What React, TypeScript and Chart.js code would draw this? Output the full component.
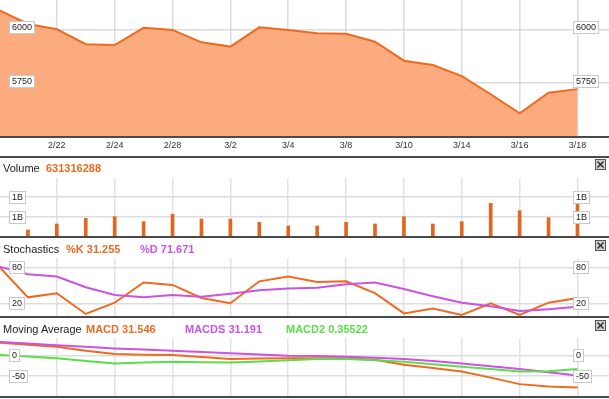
import React, { useEffect, useRef } from 'react';
import { Chart, registerables } from 'chart.js';
Chart.register(...registerables);

// ---------- data ----------
const dates = ['2/18', '2/21', '2/22', '2/23', '2/24', '2/25', '2/28', '3/1', '3/2', '3/3', '3/4', '3/7', '3/8', '3/9', '3/10', '3/11', '3/14', '3/15', '3/16', '3/17', '3/18'];
const labeledIdx = [2, 4, 6, 8, 10, 12, 14, 16, 18, 20];
const price = [6090, 6025, 6000, 5930, 5926, 6007, 5997, 5939, 5919, 6009, 5997, 5981, 5979, 5942, 5853, 5833, 5781, 5696, 5607, 5703, 5720];
const volumeM = [null, 175, 325, 467, 508, 383, 567, 450, 450, 367, 275, 275, 367, 325, 508, 325, 383, 842, 658, 483, 858];
const stochK = [82, 30, 37, 2, 21, 55, 51, 29, 20, 57, 65, 56, 57, 37, 3, 11, 0.5, 20, 0.5, 21, 29];
const stochD = [82, 69, 65, 47, 34, 30, 34, 31, 36, 42, 45, 46, 52, 55, 44, 32, 21, 15, 7, 10, 14];
const macd = [32, 27, 22, 12, 4, 2.5, 2, -3, -8, -7, -6, -6, -6.5, -10, -22, -30, -39, -54, -70, -76, -78];
const macds = [34, 30, 26, 22, 18, 15, 12, 9, 6, 3, 0, -1, -2.5, -5, -8, -13, -19, -26, -33, -41, -49];
const macd2 = [2, -2, -6, -13, -19, -16.5, -15, -16, -17, -14, -11, -8, -8, -11, -15, -21, -27, -33, -39, -38, -33];
const priceTicks = [5750, 6000];
const volumeTicks = [500, 1000];
const stochTicks = [20, 80];
const macdTicks = [-50, 0];

// ---------- styles ----------
const ORANGE = '#ef6a1f';
const MAGENTA = '#cc52e4';
const GREEN = '#5ade4a';
const FONT = '"Liberation Sans", Arial, sans-serif';

const pts = (arr: (number | null)[]) => arr.map((v, i) => ({ x: i, y: v }));

function xScale(z: number, color: string) {
  return {
    type: 'linear',
    min: 0.035,
    max: 21.09,
    offset: false,
    z,
    afterBuildTicks: (s: any) => { s.ticks = labeledIdx.map((v) => ({ value: v })); },
    ticks: { display: false },
    grid: { drawTicks: false, color, lineWidth: 1.5, offset: false },
    border: { display: false },
  };
}

function yScale(min: number, max: number, ticks: number[], z: number, color: string) {
  return {
    type: 'linear',
    min,
    max,
    z,
    afterBuildTicks: (s: any) => { s.ticks = ticks.map((v) => ({ value: v })); },
    ticks: { display: false },
    grid: { drawTicks: false, color, lineWidth: 1.5 },
    border: { display: false },
  };
}

function boxPlugin(fmt: (v: number) => string, dy: number) {
  return {
    id: 'boxes',
    afterDraw(chart: any) {
      const ctx = chart.ctx;
      const y = chart.scales.y;
      ctx.save();
      ctx.font = '9px ' + FONT;
      ctx.textBaseline = 'middle';
      y.ticks.forEach((t: any) => {
        const py = y.getPixelForValue(t.value) + dy;
        const text = fmt(t.value);
        const w = Math.round(ctx.measureText(text).width + 5);
        const top = Math.round(py - 6.5) + 0.5;
        [9.5, 573.5].forEach((x0) => {
          ctx.fillStyle = '#ffffff';
          ctx.fillRect(x0, top, w, 12);
          ctx.strokeStyle = '#c9c9c9';
          ctx.lineWidth = 1;
          ctx.strokeRect(x0, top, w, 12);
          ctx.fillStyle = '#222';
          ctx.fillText(text, x0 + 2.5, top + 6.5);
        });
      });
      ctx.restore();
    },
  };
}

const xLabelPlugin = {
  id: 'xlabels',
  afterDraw(chart: any) {
    const ctx = chart.ctx;
    const x = chart.scales.x;
    ctx.save();
    ctx.font = '9px ' + FONT;
    ctx.textAlign = 'center';
    ctx.textBaseline = 'middle';
    ctx.fillStyle = '#333';
    labeledIdx.forEach((i) => {
      ctx.fillText(dates[i], x.getPixelForValue(i), chart.chartArea.bottom + 8.5);
    });
    ctx.restore();
  },
};

const baseOptions = (padTop: number, padBottom: number) => ({
  responsive: false,
  animation: false,
  events: [],
  layout: { padding: { top: padTop, bottom: padBottom, left: 0, right: 0 } },
  plugins: { legend: { display: false }, tooltip: { enabled: false }, title: { display: false } },
});

const lineDs = (data: number[], color: string) => ({
  data: pts(data),
  borderColor: color,
  borderWidth: 2,
  pointRadius: 0,
  tension: 0,
  fill: false,
});

function buildPrice() {
  return {
    type: 'line',
    data: {
      datasets: [{
        data: pts(price),
        borderColor: ORANGE,
        borderWidth: 2,
        backgroundColor: '#fbab7d',
        fill: 'start',
        pointRadius: 0,
        tension: 0,
      }],
    },
    options: {
      ...baseOptions(0, 20),
      scales: {
        x: xScale(1, 'rgba(205,205,205,0.7)'),
        y: yScale(5496, 6137, priceTicks, 1, 'rgba(205,205,205,0.7)'),
      },
    },
    plugins: [boxPlugin((v) => String(v), -1.5), xLabelPlugin],
  };
}

function buildVolume() {
  return {
    type: 'bar',
    data: {
      datasets: [{
        data: pts(volumeM),
        backgroundColor: '#e2661f',
        barThickness: 3,
        borderWidth: 0,
      }],
    },
    options: {
      ...baseOptions(21, 1),
      scales: {
        x: xScale(0, '#e2e2e2'),
        y: yScale(0, 1475, volumeTicks, 0, '#dddddd'),
      },
    },
    plugins: [boxPlugin((v) => Math.round(v / 1000) + 'B', 0)],
  };
}

function buildStoch() {
  return {
    type: 'line',
    data: { datasets: [lineDs(stochD, MAGENTA), lineDs(stochK, ORANGE)] },
    options: {
      ...baseOptions(20, 1),
      scales: {
        x: xScale(0, '#e2e2e2'),
        y: yScale(-3.1, 96.3, stochTicks, 0, '#dddddd'),
      },
    },
    plugins: [boxPlugin((v) => String(v), 0)],
  };
}

function buildMacd() {
  return {
    type: 'line',
    data: { datasets: [lineDs(macd2, GREEN), lineDs(macds, MAGENTA), lineDs(macd, ORANGE)] },
    options: {
      ...baseOptions(20, 2),
      scales: {
        x: xScale(0, '#e2e2e2'),
        y: yScale(-101.7, 43.6, macdTicks, 0, '#dddddd'),
      },
    },
    plugins: [boxPlugin((v) => String(v), 0)],
  };
}

function Panel({ top, height, build }: { top: number; height: number; build: () => any }) {
  const ref = useRef<HTMLCanvasElement | null>(null);
  useEffect(() => {
    const chart = new Chart(ref.current as HTMLCanvasElement, build());
    return () => chart.destroy();
  }, []);
  return (
    <canvas
      ref={ref}
      width={609}
      height={height}
      style={{ position: 'absolute', left: 0, top, width: 609, height, display: 'block' }}
    />
  );
}

function Line({ top }: { top: number }) {
  return <div style={{ position: 'absolute', left: 0, top, width: 609, height: 2, background: '#4a4a4a' }} />;
}

function CloseBtn({ top }: { top: number }) {
  return (
    <svg width={11} height={11} style={{ position: 'absolute', left: 595, top }}>
      <rect x={0.5} y={0.5} width={10} height={10} fill="#d0d0d0" stroke="#555" />
      <line x1={2.5} y1={2.5} x2={8.5} y2={8.5} stroke="#222" strokeWidth={1.2} />
      <line x1={8.5} y1={2.5} x2={2.5} y2={8.5} stroke="#222" strokeWidth={1.2} />
    </svg>
  );
}

function Label({ left, top, text, color, bold }: { left: number; top: number; text: string; color: string; bold?: boolean }) {
  return (
    <div
      style={{
        position: 'absolute', left, top, font: `${bold ? 'bold ' : ''}11px ${FONT}`,
        lineHeight: '13px', color, whiteSpace: 'nowrap',
      }}
    >
      {text}
    </div>
  );
}

export default function App() {
  return (
    <div style={{ position: 'fixed', left: 0, top: 0, width: 609, height: 399, overflow: 'hidden', background: '#fff' }}>
      <Panel top={0} height={157} build={buildPrice} />
      <Panel top={157} height={81} build={buildVolume} />
      <Panel top={238} height={80} build={buildStoch} />
      <Panel top={318} height={81} build={buildMacd} />
      <Line top={136} />
      <Line top={156} />
      <Line top={236} />
      <Line top={316} />
      <Line top={396} />
      <Label left={3} top={162} text="Volume" color="#222" />
      <Label left={46} top={162} text="631316288" color={ORANGE} bold />
      <Label left={3} top={243} text="Stochastics" color="#222" />
      <Label left={66} top={243} text="%K 31.255" color={ORANGE} bold />
      <Label left={140} top={243} text="%D 71.671" color={MAGENTA} bold />
      <Label left={3} top={323} text="Moving Average" color="#222" />
      <Label left={86} top={323} text="MACD 31.546" color={ORANGE} bold />
      <Label left={185} top={323} text="MACDS 31.191" color={MAGENTA} bold />
      <Label left={286} top={323} text="MACD2 0.35522" color={GREEN} bold />
      <CloseBtn top={159} />
      <CloseBtn top={240} />
      <CloseBtn top={320} />
    </div>
  );
}
